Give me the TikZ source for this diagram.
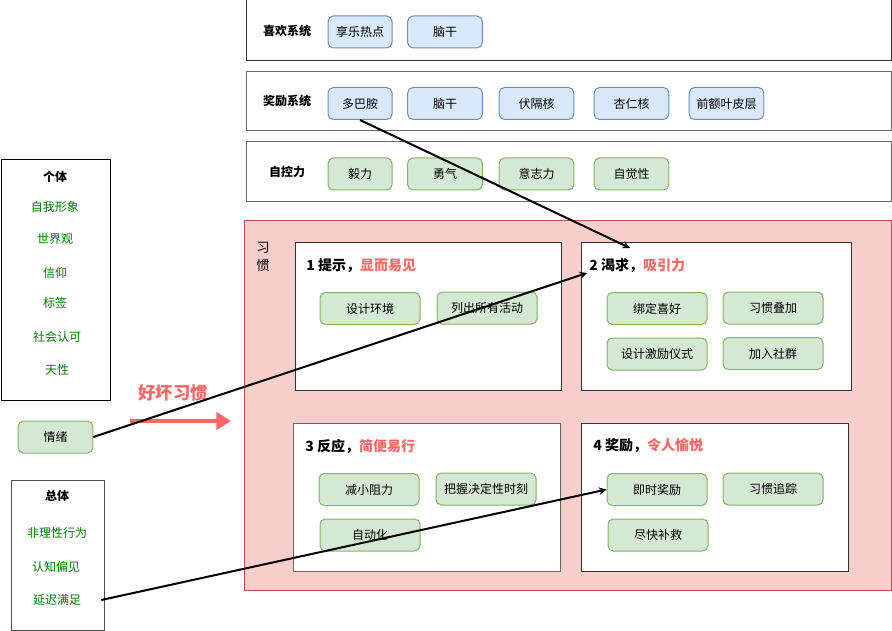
\documentclass[tikz,border=0pt]{standalone}
\usepackage{fontspec}
\setmainfont{Noto Sans CJK SC}
\usepackage{tikz}
\usetikzlibrary{shapes, arrows, arrows.meta, calc, positioning}
\definecolor{blueFill}{HTML}{DAE8FC}
\definecolor{blueLine}{HTML}{6C8EBF}
\definecolor{greenFill}{HTML}{D5E8D4}
\definecolor{greenLine}{HTML}{82B366}
\definecolor{pinkFill}{HTML}{F8CECC}
\definecolor{pinkLine}{HTML}{B85450}
\definecolor{redText}{HTML}{FF6666}
\definecolor{greenText}{HTML}{007A00}
\tikzstyle{arrow} = [line width=1.5pt, ->, >=stealth]
\tikzstyle{panel} = [draw=black!80, line width=0.75pt, fill=white]
\tikzstyle{tag} = [draw, rounded corners=4pt, line width=0.75pt, minimum height=24pt, inner sep=1pt, font=\fontsize{9pt}{11pt}\selectfont]
\tikzstyle{bluetag} = [tag, draw=blueLine, fill=blueFill]
\tikzstyle{greentag} = [tag, draw=greenLine, fill=greenFill]
\tikzstyle{habittag} = [greentag, minimum width=75pt]
\tikzstyle{syslabel} = [font=\fontsize{9pt}{11pt}\selectfont\bfseries]
\tikzstyle{steptitle} = [anchor=west, inner sep=0pt, font=\fontsize{10.5pt}{12pt}\selectfont\bfseries]
\tikzstyle{item} = [text=greenText, font=\fontsize{9pt}{11pt}\selectfont]

\begin{document}
\begin{tikzpicture}[x=0.75pt, y=-0.75pt]
            \useasboundingbox (0,0) rectangle (892,631);

            % brain systems
            \draw [panel] (246,0) rectangle (891,61);
            \draw [panel, draw=black!60] (246,72) rectangle (891,131);
            \draw [panel, draw=black!60] (246,142) rectangle (891,201);
            \node [syslabel] (like) at (287,31) {喜欢系统};
            \node [syslabel] (reward) at (287,101) {奖励系统};
            \node [syslabel] (control) at (287,172) {自控力};

            \node [bluetag, minimum width=48pt] (pleasure) at (360,32) {享乐热点};
            \node [bluetag, minimum width=56pt] (brainstemA) at (445,32) {脑干};

            \node [bluetag, minimum width=48pt] (dopamine) at (360,103.5) {多巴胺};
            \node [bluetag, minimum width=56pt] (brainstemB) at (445,103.5) {脑干};
            \node [bluetag, minimum width=56pt] (accumbens) at (536.5,103.5) {伏隔核};
            \node [bluetag, minimum width=56pt] (amygdala) at (631.5,103.5) {杏仁核};
            \node [bluetag, minimum width=56pt] (prefrontal) at (726.5,103.5) {前额叶皮层};

            \node [greentag, minimum width=48pt] (grit) at (360,174) {毅力};
            \node [greentag, minimum width=56pt] (courage) at (445,174) {勇气};
            \node [greentag, minimum width=56pt] (will) at (536.5,174) {意志力};
            \node [greentag, minimum width=56pt] (aware) at (631.5,174) {自觉性};

            % habit area
            \draw [draw=pinkLine, fill=pinkFill, line width=0.75pt] (244,220) rectangle (891,590);
            \node [align=center, font=\fontsize{10pt}{13pt}\selectfont] (habit) at (263,257) {习\\惯};

            \draw [panel] (295,242) rectangle (561,390);
            \draw [panel] (581,242) rectangle (851,390);
            \draw [panel, draw=black!60] (293,423) rectangle (560,571);
            \draw [panel] (581,423) rectangle (848,571);

            \node [steptitle] (cue) at (306,266) {1 提示，\textcolor{redText}{显而易见}};
            \node [steptitle] (craving) at (589,266) {2 渴求，\textcolor{redText}{吸引力}};
            \node [steptitle] (response) at (305,446) {3 反应，\textcolor{redText}{简便易行}};
            \node [steptitle] (payoff) at (593,446) {4 奖励，\textcolor{redText}{令人愉悦}};

            \node [habittag] (design) at (370,308.5) {设计环境};
            \node [habittag] (listall) at (487,308) {列出所有活动};
            \node [habittag] (bind) at (657,308.5) {绑定喜好};
            \node [habittag] (stack) at (773,308) {习惯叠加};
            \node [habittag] (ritual) at (657,354) {设计激励仪式};
            \node [habittag] (group) at (773,353.5) {加入社群};

            \node [habittag] (friction) at (369,489.5) {减小阻力};
            \node [habittag] (moment) at (486,489) {把握决定性时刻};
            \node [habittag] (auto) at (370,535) {自动化};
            \node [habittag] (instant) at (657,489.5) {即时奖励};
            \node [habittag] (track) at (773,489) {习惯追踪};
            \node [habittag] (repair) at (658,535) {尽快补救};

            % individual and group
            \draw [panel, draw=black] (1,160) rectangle (110,400);
            \node [syslabel] (person) at (55,177) {个体};
            \node [item] (selfimage) at (55,207) {自我形象};
            \node [item] (worldview) at (55,239) {世界观};
            \node [item] (belief) at (55,273) {信仰};
            \node [item] (label) at (55,303) {标签};
            \node [item] (approval) at (57,337) {社会认可};
            \node [item] (nature) at (57,370) {天性};

            \node [greentag, minimum width=56pt] (emotion) at (55.5,437) {情绪};

            \draw [panel, draw=black!70] (11,480) rectangle (104,630);
            \node [syslabel] (crowd) at (57,496) {总体};
            \node [item] (irrational) at (57,533) {非理性行为};
            \node [item] (bias) at (56,567) {认知偏见};
            \node [item, minimum width=66pt] (delay) at (57,600) {延迟满足};

            \node [text=redText, font=\fontsize{13pt}{15pt}\selectfont\bfseries] (goodbad) at (173,393) {好坏习惯};
            \coordinate (redstart) at (130,421);
            \coordinate (redend) at (231,421);
            \draw [draw=redText, line width=3pt, -{Triangle[length=11pt, width=13pt]}] (redstart) -- (redend);

            % links
            \coordinate (cravingtop) at (630,248);
            \coordinate (cravingleft) at (587,273);
            \draw [arrow] (dopamine.south) -- (cravingtop);
            \draw [arrow] (emotion.east) -- (cravingleft);
            \draw [arrow] (delay.east) -- (instant.west);
          \end{tikzpicture}
\end{document}
